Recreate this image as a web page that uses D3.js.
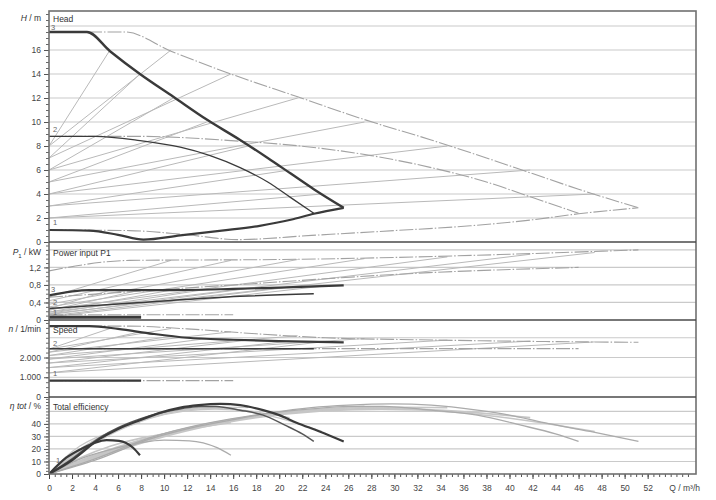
<!DOCTYPE html>
<html>
<head>
<meta charset="utf-8">
<script src="https://cdn.jsdelivr.net/npm/d3@7"></script>
<style>
  body { margin: 0; background: #fff; }
  text { font-family: "Liberation Sans", Arial, sans-serif; }
</style>
</head>
<body>
<div class="svg-container"></div>
<script>
// ---- tick values / labels
const qTicks = [0,2,4,6,8,10,12,14,16,18,20,22,24,26,28,30,32,34,36,38,40,42,44,46,48,50,52];
const headTicks = [0,2,4,6,8,10,12,14,16];
const headGrid = [2,4,6,8,10,12,14,16,18];
const powerTicks = [0,0.4,0.8,1.2];
const powerGrid = [0.4,0.8,1.2,1.6];
const speedTicks = [0,1000,2000];
const speedGrid = [1000,2000,3000];
const effTicks = [0,10,20,30,40];
const effGrid = [10,20,30,40,50];

// ---- single pump curves [Q m3/h, value]  (3 = max, 2 = mid, 1 = min)
const head3 = [[0,17.5],[3.3,17.5],[5.3,15.9],[7.9,14],[10.8,12.1],[13.7,10.2],[16.6,8.5],[19,7],[21,5.7],[23,4.4],[25.6,2.85]];
const head2 = [[0,8.8],[4,8.8],[7.9,8.45],[11.4,7.9],[14,7.2],[16.6,6.2],[19,5],[21,3.7],[23,2.4]];
const head1 = [[0,1.0],[3.5,0.95],[6,0.6],[8.2,0.2],[11.4,0.55],[15,0.95],[18.3,1.35],[21,1.85],[23,2.35],[25.6,2.85]];
const power3 = [[0,0.56],[3.5,0.68],[10,0.68],[16,0.71],[20,0.74],[25.6,0.79]];
const power2 = [[0,0.26],[8,0.4],[16.6,0.54],[23,0.6]];
const power1 = [[0,0.06],[8,0.06]];
const speed3 = [[0,3590],[3.5,3590],[6,3450],[9,3200],[12,3000],[16,2900],[20,2830],[25.6,2770]];
const speed2 = [[0,2450],[23,2450]];
const speed1 = [[0,830],[8,830]];
const eff3 = [[0,0],[2,11],[4.4,28],[6,36],[7.9,43],[9.7,49],[11.4,53],[13,55],[14.9,56],[16.6,55],[18.6,51],[20,47],[21.5,41],[23.5,34],[25.6,26]];
const eff2 = [[0,0],[2,12],[4.4,29],[6,37],[7.9,44],[9.7,49],[11.4,52],[13,54],[14.5,54],[16.6,51],[18.6,47],[20.5,39],[22,32],[23,26]];
const eff1 = [[0,0],[1.5,13],[3,21],[4,25],[5,27],[6.1,26.5],[7.3,21],[7.9,15]];

// ---- twin pump (parallel) curves, grey
const head3Twin = [[0,17.5],[6.6,17.5],[10.6,15.9],[15.8,14],[21.6,12.1],[27.4,10.2],[33.2,8.5],[38,7],[42,5.7],[46,4.4],[51.2,2.85]];
const head2Twin = [[0,8.8],[8,8.8],[15.8,8.45],[22.8,7.9],[28,7.2],[33.2,6.2],[38,5],[42,3.7],[46,2.4]];
const head1Twin = [[0,1.0],[7,0.95],[12,0.6],[16.4,0.2],[22.8,0.55],[30,0.95],[36.6,1.35],[42,1.85],[46,2.35],[51.2,2.85]];
const power3Twin = [[0,1.12],[7,1.36],[20,1.38],[32,1.44],[40,1.5],[51.2,1.6]];
const power2Twin = [[0,0.52],[16,0.8],[33,1.08],[46,1.2]];
const power1Twin = [[0,0.12],[16,0.12]];
const speed3Twin = [[0,3590],[7,3590],[12,3450],[18,3200],[24,3000],[32,2900],[40,2830],[51.2,2770]];
const speed2Twin = [[0,2450],[46,2450]];
const speed1Twin = [[0,830],[16,830]];
const eff3Twin = [[0,0],[4,11],[8.8,28],[12,36],[15.8,43],[19.4,49],[22.8,53],[26,55],[29.8,56],[33.2,55],[37.2,51],[40,47],[43,41],[47,34],[51.2,26]];
const eff2Twin = [[0,0],[4,12],[8.8,29],[12,37],[15.8,44],[19.4,49],[22.8,52],[26,54],[29,54],[33.2,51],[37.2,47],[41,39],[44,32],[46,26]];
const eff1Twin = [[0,0],[3,13],[6,21],[8,25],[10,27],[12.2,26.5],[14.6,21],[15.8,15]];

// ---- dp-v control lines (single / twin)
const dpvStartH = [8,7,6,5,4,3,2];
const dpvEndH = [16,14,12,10,8,6,4];
const dpvEndQ = [5.3,7.9,10.8,13.7,17.3,20.9,23.7];
const dpvEndQTwin = [10.6,15.8,21.6,27.4,34.6,41.8,47.4];
const dpvStartP = [0.26,0.22,0.18,0.15,0.12,0.09,0.07];
const dpvEndP = [0.68,0.68,0.69,0.70,0.72,0.75,0.77];
const dpvStartPTwin = [0.52,0.44,0.36,0.30,0.24,0.18,0.14];
const dpvEndPTwin = [1.36,1.36,1.38,1.40,1.44,1.50,1.54];
const dpvStartN = [2430,2270,2100,1920,1720,1490,1220];
const dpvEndN = [3470,3300,3100,2960,2880,2830,2790];
const dpvEff = [
  [[0,0],[1.3,13],[2.7,23],[4,29],[5.3,33]],
  [[0,0],[2,16],[4,28],[6,36],[7.9,41]],
  [[0,0],[2.7,20],[5.4,35],[8.1,45],[10.8,50]],
  [[0,0],[3.4,25],[6.9,41],[10.3,50],[13.7,54]],
  [[0,0],[4.3,30],[8.7,47],[13,54],[17.3,53]],
  [[0,0],[5.2,35],[10.5,51],[15.7,54],[20.9,45]],
  [[0,0],[5.9,38],[11.9,53],[17.8,52],[23.7,34]]
];
const dpvEffTwin = [
  [[0,0],[2.6,13],[5.4,23],[8,29],[10.6,33]],
  [[0,0],[4,16],[8,28],[12,36],[15.8,41]],
  [[0,0],[5.4,20],[10.8,35],[16.2,45],[21.6,50]],
  [[0,0],[6.8,25],[13.8,41],[20.6,50],[27.4,54]],
  [[0,0],[8.6,30],[17.4,47],[26,54],[34.6,53]],
  [[0,0],[10.4,35],[21,51],[31.4,54],[41.8,45]],
  [[0,0],[11.8,38],[23.8,53],[35.6,52],[47.4,34]]
];

//required dimensions
const width = 716;
const height = 500;
const plotL = 49, plotR = 696, plotT = 11, plotB = 474;
const panelEdges = [plotT, 242, 320, 397, plotB];

const svg = d3.select('.svg-container')
  .append('svg')
  .attr('width', width)
  .attr('height', height);

const xScale = d3.scaleLinear().domain([0, 56.2]).range([plotL, plotR]);
const yHead = d3.scaleLinear().domain([0, 19.25]).range([242, plotT]);
const yPower = d3.scaleLinear().domain([0, 1.78]).range([320, 242]);
const ySpeed = d3.scaleLinear().domain([0, 3900]).range([397, 320]);
const yEff = d3.scaleLinear().domain([0, 61.5]).range([plotB, 397]);

const de = d3.formatLocale({decimal: ',', thousands: '.', grouping: [3], currency: ['', '']});

const panels = [
  {y: yHead, grid: headGrid, ticks: headTicks, minor: d3.range(0, 19.01, 0.5), fmt: de.format('d'), y0: plotT, y1: 242},
  {y: yPower, grid: powerGrid, ticks: powerTicks, minor: d3.range(0, 1.78, 0.1), fmt: d => d === 0 ? '0' : de.format('.1f')(d), y0: 242, y1: 320},
  {y: ySpeed, grid: speedGrid, ticks: speedTicks, minor: d3.range(0, 3900, 250), fmt: de.format(','), y0: 320, y1: 397},
  {y: yEff, grid: effGrid, ticks: effTicks, minor: d3.range(0, 61, 2.5), fmt: de.format('d'), y0: 397, y1: plotB}
];

// clip paths per panel
panels.forEach((p, i) => {
  svg.append('clipPath').attr('id', 'clip' + i)
    .append('rect')
    .attr('x', plotL).attr('y', p.y0)
    .attr('width', plotR - plotL).attr('height', p.y1 - p.y0);
});

// gridlines
panels.forEach(p => {
  svg.append('g').selectAll('line')
    .data(p.grid)
    .join('line')
    .attr('x1', plotL).attr('x2', plotR)
    .attr('y1', d => p.y(d)).attr('y2', d => p.y(d))
    .attr('stroke', '#cacaca')
    .attr('stroke-width', 1.2);
});

// y axes
panels.forEach(p => {
  svg.append('g')
    .attr('transform', `translate(${plotL},0)`)
    .call(d3.axisLeft(p.y).tickValues(p.minor).tickSize(3).tickFormat(''))
    .call(g => g.select('.domain').remove())
    .call(g => g.selectAll('line').attr('stroke', '#666'));
  svg.append('g')
    .attr('transform', `translate(${plotL},0)`)
    .call(d3.axisLeft(p.y).tickValues(p.ticks).tickSize(5).tickPadding(3).tickFormat(p.fmt))
    .call(g => g.select('.domain').remove())
    .call(g => g.selectAll('line').attr('stroke', '#555'))
    .call(g => g.selectAll('text').attr('fill', '#444').attr('font-size', 8.5));
});

// x axis
svg.append('g')
  .attr('transform', `translate(0,${plotB})`)
  .call(d3.axisBottom(xScale).tickValues(d3.range(0, 56, 0.5)).tickSize(3).tickFormat(''))
  .call(g => g.select('.domain').remove())
  .call(g => g.selectAll('line').attr('stroke', '#555'));
svg.append('g')
  .attr('transform', `translate(0,${plotB})`)
  .call(d3.axisBottom(xScale).tickValues(qTicks).tickSize(5).tickPadding(6))
  .call(g => g.select('.domain').remove())
  .call(g => g.selectAll('line').attr('stroke', '#444'))
  .call(g => g.selectAll('text').attr('fill', '#444').attr('font-size', 8.5));

// line helper
const drawLine = (idx, yScale, pts, color, w, dash, curve) => {
  const line = d3.line()
    .x(d => xScale(d[0]))
    .y(d => yScale(d[1]))
    .curve(curve || d3.curveMonotoneX);
  svg.append('path')
    .datum(pts)
    .attr('clip-path', `url(#clip${idx})`)
    .attr('d', line)
    .attr('fill', 'none')
    .attr('stroke', color)
    .attr('stroke-width', w)
    .attr('stroke-dasharray', dash || null)
    .attr('stroke-linejoin', 'round');
};

const grayRay = '#b9b9b9';
const grayTwin = '#a2a2a2';
const twinDash = '14 2 1.5 2';

// dp-v lines, head
dpvStartH.forEach((h0, i) => {
  drawLine(0, yHead, [[0, h0], [dpvEndQ[i], dpvEndH[i]]], grayRay, 1, null, d3.curveLinear);
  drawLine(0, yHead, [[0, h0], [dpvEndQTwin[i], dpvEndH[i]]], grayRay, 1, null, d3.curveLinear);
});
// dp-v lines, power
dpvStartP.forEach((p0, i) => {
  drawLine(1, yPower, [[0, p0], [dpvEndQ[i], dpvEndP[i]]], grayRay, 1, null, d3.curveLinear);
  drawLine(1, yPower, [[0, dpvStartPTwin[i]], [dpvEndQTwin[i], dpvEndPTwin[i]]], grayRay, 1, null, d3.curveLinear);
});
// dp-v lines, speed
dpvStartN.forEach((n0, i) => {
  drawLine(2, ySpeed, [[0, n0], [dpvEndQ[i], dpvEndN[i]]], grayRay, 1, null, d3.curveLinear);
  drawLine(2, ySpeed, [[0, n0], [dpvEndQTwin[i], dpvEndN[i]]], grayRay, 1, null, d3.curveLinear);
});
// dp-v lines, efficiency
dpvEffTwin.forEach(pts => drawLine(3, yEff, pts, '#c6c6c6', 1.6, null, d3.curveBasis));
dpvEff.forEach(pts => drawLine(3, yEff, pts, '#c6c6c6', 1.2, null, d3.curveBasis));

// twin curves
[head3Twin, head2Twin, head1Twin].forEach(pts => drawLine(0, yHead, pts, grayTwin, 1.1, twinDash));
[power3Twin, power2Twin, power1Twin].forEach(pts => drawLine(1, yPower, pts, grayTwin, 1.1, twinDash));
[speed3Twin, speed2Twin, speed1Twin].forEach(pts => drawLine(2, ySpeed, pts, grayTwin, 1.1, twinDash));
[eff3Twin, eff2Twin, eff1Twin].forEach(pts => drawLine(3, yEff, pts, '#ababab', 1.3));

// single pump curves (dark)
const dark = '#3a3a3a';
drawLine(0, yHead, head2, dark, 1.3);
drawLine(0, yHead, head3, dark, 2.4);
drawLine(0, yHead, head1, dark, 2.2);
drawLine(1, yPower, power2, dark, 1.5);
drawLine(1, yPower, power3, dark, 2.2);
drawLine(1, yPower, power1, dark, 3);
drawLine(2, ySpeed, speed2, dark, 1.5);
drawLine(2, ySpeed, speed3, dark, 2.2);
drawLine(2, ySpeed, speed1, dark, 2.4);
drawLine(3, yEff, eff2, '#555', 1.5);
drawLine(3, yEff, eff3, dark, 2.2);
drawLine(3, yEff, eff1, dark, 2.2);

// frame and panel separators
svg.append('rect')
  .attr('x', plotL).attr('y', plotT)
  .attr('width', plotR - plotL).attr('height', plotB - plotT)
  .attr('fill', 'none')
  .attr('stroke', '#707070')
  .attr('stroke-width', 1.6);
svg.append('g').selectAll('line')
  .data(panelEdges.slice(1, 4))
  .join('line')
  .attr('x1', plotL).attr('x2', plotR)
  .attr('y1', d => d).attr('y2', d => d)
  .attr('stroke', '#4a4a4a')
  .attr('stroke-width', 1.3);

// panel titles
const titles = [['Head', 22], ['Power input P1', 256], ['Speed', 333], ['Total efficiency', 410]];
svg.append('g').selectAll('text')
  .data(titles)
  .join('text')
  .attr('x', 53)
  .attr('y', d => d[1])
  .attr('fill', '#333')
  .attr('font-size', 8.5)
  .text(d => d[0]);

// curve numbers
const curveNums = [['3', 51, 30], ['2', 53, 132], ['1', 53, 225], ['3', 51, 292], ['2', 53, 305], ['1', 53, 315],
                   ['2', 53, 346], ['1', 53, 376], ['1', 56, 463]];
svg.append('g').selectAll('text')
  .data(curveNums)
  .join('text')
  .attr('x', d => d[1])
  .attr('y', d => d[2])
  .attr('fill', '#666')
  .attr('font-size', 7.5)
  .text(d => d[0]);

// axis titles
const axisTitle = (y, parts) => {
  const t = svg.append('text')
    .attr('x', 41).attr('y', y)
    .attr('text-anchor', 'end')
    .attr('fill', '#333')
    .attr('font-size', 8.5);
  parts.forEach(p => {
    const s = t.append('tspan').text(p[0]);
    if (p[1]) s.attr('font-style', 'italic');
    if (p[2]) s.attr('baseline-shift', 'sub').attr('font-size', 6);
  });
};
axisTitle(21, [['H', true], [' / m']]);
axisTitle(255, [['P', true], ['1', false, true], [' / kW']]);
axisTitle(332, [['n', true], [' / 1/min']]);
axisTitle(409, [['η tot', true], [' / %']]);

svg.append('text')
  .attr('x', 700).attr('y', 491)
  .attr('text-anchor', 'end')
  .attr('fill', '#444')
  .attr('font-size', 8.5)
  .text('Q / m³/h');
</script>
</body>
</html>
